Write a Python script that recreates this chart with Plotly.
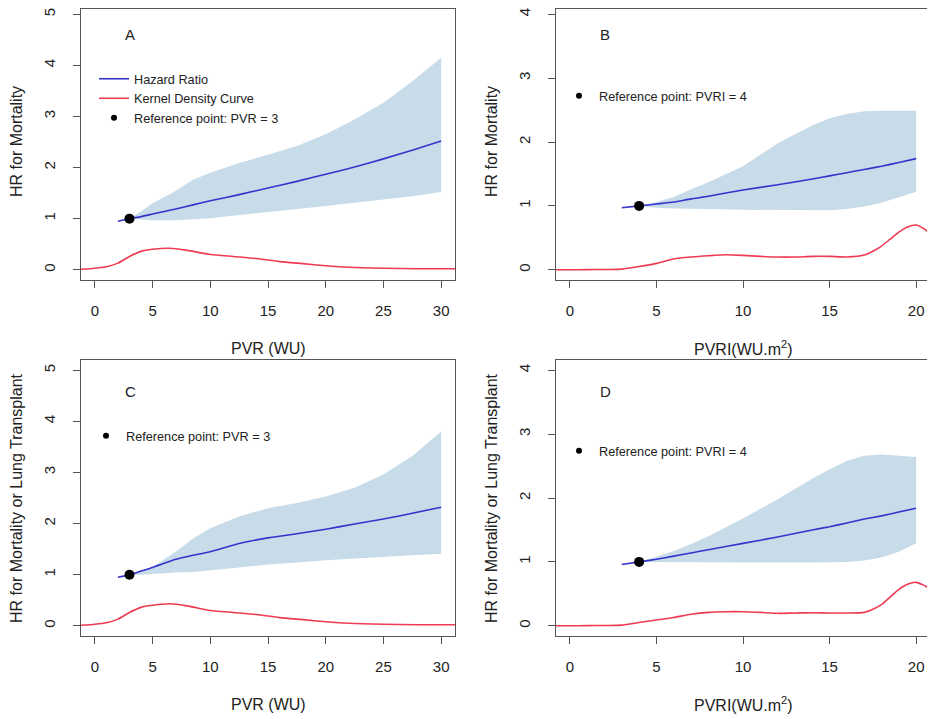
import plotly.graph_objects as go

# ---------------- data ----------------
# Panel A: PVR vs HR for mortality
pvr_x = [2, 3, 4, 5, 7, 8.5, 10, 12.5, 15, 17.5, 20, 22.5, 25, 27.5, 30]
hr_A = [0.95, 1.0, 1.04, 1.09, 1.19, 1.27, 1.35, 1.47, 1.60, 1.73, 1.87, 2.01, 2.17, 2.34, 2.52]
up_A = [0.96, 1.0, 1.14, 1.30, 1.54, 1.76, 1.90, 2.09, 2.25, 2.42, 2.65, 2.94, 3.27, 3.69, 4.15]
lo_A = [0.94, 1.0, 0.98, 0.97, 0.97, 0.99, 1.01, 1.06, 1.12, 1.19, 1.25, 1.31, 1.37, 1.44, 1.52]

# Panel C: PVR vs HR for mortality or lung transplant
hr_C = [0.95, 1.0, 1.07, 1.14, 1.30, 1.38, 1.45, 1.61, 1.72, 1.80, 1.89, 1.99, 2.09, 2.20, 2.32]
up_C = [0.96, 1.0, 1.07, 1.15, 1.45, 1.71, 1.91, 2.14, 2.30, 2.40, 2.53, 2.70, 2.96, 3.32, 3.80]
lo_C = [0.94, 1.0, 1.0, 1.01, 1.04, 1.05, 1.09, 1.14, 1.20, 1.24, 1.28, 1.32, 1.35, 1.38, 1.41]

# Kernel density of PVR
dens_pvr_x = [-1.2, 0, 1, 2, 3, 4, 5, 6.5, 8, 10, 12, 14, 16, 18, 20, 22, 25, 28, 31.2]
dens_A = [0.01, 0.03, 0.06, 0.13, 0.26, 0.36, 0.40, 0.42, 0.38, 0.30, 0.26, 0.22, 0.16, 0.12, 0.08, 0.05, 0.03, 0.02, 0.02]
dens_C = [0.01, 0.03, 0.06, 0.13, 0.26, 0.36, 0.40, 0.43, 0.39, 0.30, 0.26, 0.22, 0.16, 0.12, 0.08, 0.05, 0.03, 0.02, 0.02]

# Panel B: PVRI vs HR for mortality
pvri_x = [3, 4, 5, 6, 7, 8, 10, 12, 14, 15, 16, 17, 18, 19, 20]
hr_B = [0.97, 1.0, 1.03, 1.06, 1.11, 1.15, 1.25, 1.33, 1.42, 1.47, 1.52, 1.57, 1.62, 1.68, 1.74]
up_B = [0.97, 1.0, 1.06, 1.14, 1.26, 1.37, 1.62, 1.98, 2.26, 2.37, 2.44, 2.48, 2.49, 2.49, 2.49]
lo_B = [0.97, 1.0, 0.97, 0.96, 0.95, 0.95, 0.94, 0.94, 0.93, 0.93, 0.95, 0.99, 1.05, 1.13, 1.22]

# Panel D: PVRI vs HR for mortality or lung transplant
hr_D = [0.96, 1.0, 1.04, 1.09, 1.14, 1.19, 1.29, 1.39, 1.50, 1.55, 1.61, 1.67, 1.72, 1.78, 1.84]
up_D = [0.96, 1.0, 1.08, 1.17, 1.28, 1.40, 1.68, 1.98, 2.30, 2.45, 2.58, 2.66, 2.68, 2.66, 2.64]
lo_D = [0.96, 1.0, 1.0, 0.99, 0.99, 0.99, 0.99, 0.99, 0.99, 0.99, 1.0, 1.02, 1.07, 1.16, 1.29]

# Kernel density of PVRI
dens_pvri_x = [-0.8, 0, 1, 2, 3, 4, 5, 6, 7, 8, 9, 10, 11, 12, 13, 14, 15, 16, 17, 17.5, 18, 18.5, 19, 19.5, 20, 20.4, 20.8]
dens_B = [0.0, 0.0, 0.002, 0.005, 0.01, 0.05, 0.10, 0.17, 0.20, 0.22, 0.235, 0.225, 0.21, 0.20, 0.20, 0.21, 0.21, 0.20, 0.23, 0.29, 0.37, 0.48, 0.59, 0.67, 0.70, 0.65, 0.57]
dens_D = [0.0, 0.0, 0.002, 0.005, 0.01, 0.05, 0.09, 0.13, 0.18, 0.21, 0.22, 0.22, 0.21, 0.195, 0.20, 0.205, 0.20, 0.20, 0.21, 0.26, 0.33, 0.45, 0.57, 0.65, 0.68, 0.64, 0.58]

ref_A, ref_B = 3, 4

panel_letters = ["A", "B", "C", "D"]
x_titles = ["PVR (WU)", "PVRI(WU.m<sup>2</sup>)", "PVR (WU)", "PVRI(WU.m<sup>2</sup>)"]
y_titles = ["HR for Mortality", "HR for Mortality",
            "HR for Mortality or Lung Transplant", "HR for Mortality or Lung Transplant"]
ref_labels = ["Reference point: PVR = 3", "Reference point: PVRI = 4",
              "Reference point: PVR = 3", "Reference point: PVRI = 4"]

# ---------------- styling ----------------
PAGE_W, PAGE_H = 935, 719
OFF = 8                      # default page margin around the plot div
W, H = PAGE_W - OFF, PAGE_H - OFF
BLUE = "#3434cc"
RED = "#ee3b52"
BAND = "#c7dbe9"
BOX = "#555555"
FONT = "Liberation Sans, Arial, sans-serif"


def px(xp):
    return (xp - OFF) / W


def py(yp):
    return 1 - (yp - OFF) / H


# page-pixel boxes of the four panels (left, right, top, bottom)
boxes = [(81, 455, 9, 280), (556, 930, 9, 280), (81, 455, 360, 636), (556, 930, 360, 636)]

panels = [
    (pvr_x, hr_A, up_A, lo_A, dens_pvr_x, dens_A, ref_A, [-1.2, 31.2], [-0.2, 5.102], 5),
    (pvri_x, hr_B, up_B, lo_B, dens_pvri_x, dens_B, ref_B, [-0.8, 20.8], [-0.16, 4.082], 4),
    (pvr_x, hr_C, up_C, lo_C, dens_pvr_x, dens_C, ref_A, [-1.2, 31.2], [-0.2, 5.2], 5),
    (pvri_x, hr_D, up_D, lo_D, dens_pvri_x, dens_D, ref_B, [-0.8, 20.8], [-0.16, 4.16], 4),
]

fig = go.Figure()
annotations = []
legend_names = ["legend", "legend2", "legend3", "legend4"]

for i, (xs, hr, up, lo, dx, dy, ref, xr, yr, ymax) in enumerate(panels):
    n = "" if i == 0 else str(i + 1)
    xa, ya = "x" + n, "y" + n
    lg = legend_names[i]
    ref_hr = hr[xs.index(ref)]

    fig.add_trace(go.Scatter(x=xs + xs[::-1], y=up + lo[::-1], fill="toself",
                             fillcolor=BAND, line=dict(width=0),
                             mode="lines", showlegend=False, hoverinfo="skip", xaxis=xa, yaxis=ya))
    fig.add_trace(go.Scatter(x=xs, y=hr, mode="lines",
                             line=dict(color=BLUE, width=1.6, shape="spline", smoothing=0.5),
                             name="Hazard Ratio", showlegend=(i == 0), legend=lg,
                             xaxis=xa, yaxis=ya))
    fig.add_trace(go.Scatter(x=dx, y=dy, mode="lines",
                             line=dict(color=RED, width=1.6, shape="spline", smoothing=0.6),
                             name="Kernel Density Curve", showlegend=(i == 0), legend=lg,
                             xaxis=xa, yaxis=ya))
    fig.add_trace(go.Scatter(x=[ref], y=[ref_hr], mode="markers",
                             marker=dict(color="black", size=10),
                             showlegend=False, xaxis=xa, yaxis=ya))
    # legend-only entry for the reference point (small dot like the original)
    fig.add_trace(go.Scatter(x=[None], y=[None], mode="markers",
                             marker=dict(color="black", size=6),
                             name=ref_labels[i], showlegend=True, legend=lg,
                             xaxis=xa, yaxis=ya))

    l, r, t, b = boxes[i]
    axis_common = dict(showline=True, mirror=True, linecolor=BOX, linewidth=1.2,
                       ticks="outside", ticklen=7, tickcolor=BOX, tickwidth=1.2,
                       showgrid=False, zeroline=False, automargin=False,
                       ticklabeloverflow="allow",
                       tickfont=dict(family=FONT, size=15, color="#222"))
    fig.update_layout(**{
        "xaxis" + n: dict(domain=[px(l), px(r)], range=xr, anchor=ya, tick0=0, dtick=5,
                          ticklabelstandoff=10, **axis_common),
        "yaxis" + n: dict(domain=[py(b), py(t)], range=yr, anchor=xa,
                          tickvals=list(range(0, ymax + 1)), tickangle=-90,
                          ticklabelstandoff=12, **axis_common),
    })

    cx = (l + r) / 2
    cy = (t + b) / 2 if i >= 2 else 142
    ttop = t if i >= 2 else 4
    common = dict(xref="paper", yref="paper", showarrow=False,
                  xanchor="center", yanchor="middle")
    annotations.append(dict(text=panel_letters[i], x=px(l + 49), y=py(ttop + 31),
                            font=dict(family=FONT, size=15, color="#222"), **common))
    annotations.append(dict(text=x_titles[i], x=px(cx), y=py(b + 68),
                            font=dict(family=FONT, size=16, color="#222"), **common))
    annotations.append(dict(text=y_titles[i], x=px(l - 65), y=py(cy), textangle=-90,
                            font=dict(family=FONT, size=16, color="#222"), **common))

legend_common = dict(bgcolor="rgba(0,0,0,0)", borderwidth=0, xanchor="left", yanchor="top",
                     font=dict(family=FONT, size=12.7, color="#222"), tracegroupgap=0,
                     xref="paper", yref="paper")
fig.update_layout(
    legend=dict(x=px(94), y=py(64), **legend_common),
    legend2=dict(x=px(559), y=py(81), **legend_common),
    legend3=dict(x=px(86), y=py(421), **legend_common),
    legend4=dict(x=px(559), y=py(436), **legend_common),
)

fig.update_layout(width=W, height=H, margin=dict(l=0, r=0, t=0, b=0),
                  paper_bgcolor="white", plot_bgcolor="white",
                  annotations=annotations, font=dict(family=FONT),
                  hovermode=False)

fig.write_html("out.html")
